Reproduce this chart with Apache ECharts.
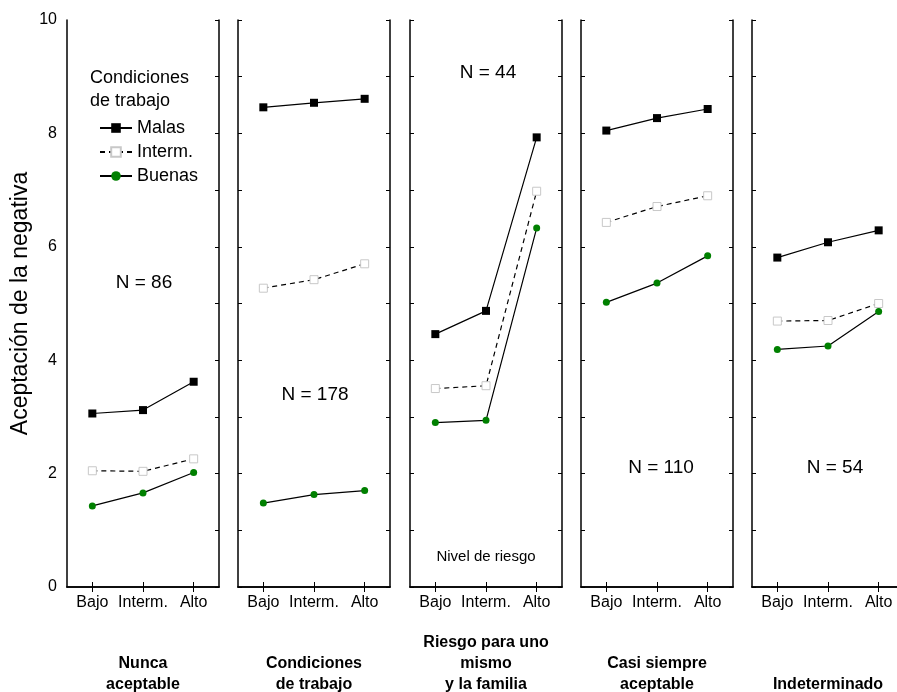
<!DOCTYPE html>
<html>
<head>
<meta charset="utf-8">
<script src="https://cdn.jsdelivr.net/npm/echarts@6/dist/echarts.min.js"></script>
<style>
  html, body { margin: 0; padding: 0; background: #fff; }
  #main { width: 897px; height: 692px; }
</style>
</head>
<body>
<div id="main"></div>
<script>
// datos
const categories = ['Bajo', 'Interm.', 'Alto'];
const panelTitles = ['Nunca\naceptable', 'Condiciones\nde trabajo', 'Riesgo para uno\nmismo\ny la familia', 'Casi siempre\naceptable', 'Indeterminado'];
const malas = [[3.06, 3.12, 3.62], [8.46, 8.54, 8.61], [4.46, 4.87, 7.93], [8.05, 8.27, 8.43], [5.81, 6.08, 6.29]];
const interm = [[2.05, 2.04, 2.26], [5.27, 5.42, 5.70], [3.50, 3.55, 6.98], [6.43, 6.71, 6.90], [4.69, 4.70, 5.00]];
const buenas = [[1.43, 1.66, 2.02], [1.48, 1.63, 1.70], [2.90, 2.94, 6.33], [5.02, 5.36, 5.84], [4.19, 4.25, 4.86]];
const nLabels = ['N = 86', 'N = 178', 'N = 44', 'N = 110', 'N = 54'];

const font = '"Liberation Sans", Arial, sans-serif';
const panelLeft = [67, 238, 410, 581, 752];
const panelW = 152;
const gridTop = 20, gridH = 567;
// posiciones de los textos N
const nPos = [[144, 283], [315, 395], [488, 73], [661, 468], [835, 468]];

let chart = echarts.init(document.getElementById('main'), null, { renderer: 'canvas' });

let grids = [], xAxes = [], yAxes = [], series = [];
const axLine = { show: true, lineStyle: { color: '#000', width: 1.5 } };

panelTitles.forEach((t, i) => {
  grids.push({
    left: panelLeft[i], top: gridTop, width: panelW, height: gridH,
    containLabel: false, outerBoundsMode: 'none'
  });
  let lines = t.split('\n').length;
  // eje x inferior
  xAxes.push({
    type: 'category', gridIndex: i, data: categories, boundaryGap: true, position: 'bottom',
    axisLine: axLine,
    axisTick: { show: true, inside: true, alignWithLabel: true, length: 5, lineStyle: { color: '#000' } },
    axisLabel: { color: '#000', fontFamily: font, fontSize: 16, margin: 8, interval: 0, hideOverlap: false },
    name: t, nameLocation: 'middle', nameGap: 66 - (lines - 2) * 21,
    nameTextStyle: { color: '#000', fontFamily: font, fontSize: 16, fontWeight: 'bold', lineHeight: 21 }
  });
  // eje x superior
  xAxes.push({
    type: 'category', gridIndex: i, data: categories, boundaryGap: true, position: 'top',
    axisLine: axLine,
    axisTick: { show: true, inside: true, alignWithLabel: true, length: 5, lineStyle: { color: '#000' } },
    axisLabel: { show: false }
  });
  // eje y izquierdo
  yAxes.push({
    type: 'value', gridIndex: i, min: 0, max: 10, interval: 1, position: 'left',
    axisLine: axLine,
    splitLine: { show: false },
    axisTick: { show: i > 0, inside: true, length: 4, lineStyle: { color: '#000' } },
    axisLabel: {
      show: i === 0, color: '#000', fontFamily: font, fontSize: 16, margin: 10,
      formatter: v => (v % 2 === 0 ? String(v) : '')
    },
    name: i === 0 ? 'Aceptación de la negativa' : '',
    nameLocation: 'middle', nameGap: 35,
    nameTextStyle: { color: '#000', fontFamily: font, fontSize: 23 }
  });
  // eje y derecho
  yAxes.push({
    type: 'value', gridIndex: i, min: 0, max: 10, interval: 1, position: 'right',
    axisLine: axLine,
    splitLine: { show: false },
    axisTick: { show: true, inside: true, length: 4, lineStyle: { color: '#000' } },
    axisLabel: { show: false }
  });

  series.push({
    name: 'Malas', type: 'line', xAxisIndex: i * 2, yAxisIndex: i * 2, data: malas[i],
    symbol: 'rect', symbolSize: 8, showAllSymbol: true,
    itemStyle: { color: '#000' }, lineStyle: { color: '#000', width: 1.2 }
  });
  series.push({
    name: 'Interm.', type: 'line', xAxisIndex: i * 2, yAxisIndex: i * 2, data: interm[i],
    symbol: 'rect', symbolSize: 8, showAllSymbol: true,
    itemStyle: { color: '#fff', borderColor: '#c8c8c8', borderWidth: 1 },
    lineStyle: { color: '#000', width: 1.2, type: [5, 4] }
  });
  series.push({
    name: 'Buenas', type: 'line', xAxisIndex: i * 2, yAxisIndex: i * 2, data: buenas[i],
    symbol: 'circle', symbolSize: 7, showAllSymbol: true,
    itemStyle: { color: '#008000' }, lineStyle: { color: '#000', width: 1.2 }
  });
});

let graphics = nLabels.map((s, i) => ({
  type: 'text', x: nPos[i][0], y: nPos[i][1],
  style: { text: s, fill: '#000', font: '19px ' + font, textAlign: 'center', textVerticalAlign: 'middle' }
}));
graphics.push({
  type: 'text', x: 486, y: 557,
  style: { text: 'Nivel de riesgo', fill: '#000', font: '15px ' + font, textAlign: 'center', textVerticalAlign: 'middle' }
});
graphics.push({
  type: 'text', x: 90, y: 67,
  style: { text: 'Condiciones\nde trabajo', fill: '#000', font: '18px ' + font, lineHeight: 23 }
});

let option = {
  animation: false,
  backgroundColor: '#fff',
  legend: {
    data: ['Malas', 'Interm.', 'Buenas'],
    orient: 'vertical', left: 94, top: 114,
    itemWidth: 32, itemHeight: 12, itemGap: 6,
    textStyle: { color: '#000', fontFamily: font, fontSize: 18 },
    selectedMode: false
  },
  grid: grids,
  xAxis: xAxes,
  yAxis: yAxes,
  series: series,
  graphic: graphics
};
chart.setOption(option);
</script>
</body>
</html>
